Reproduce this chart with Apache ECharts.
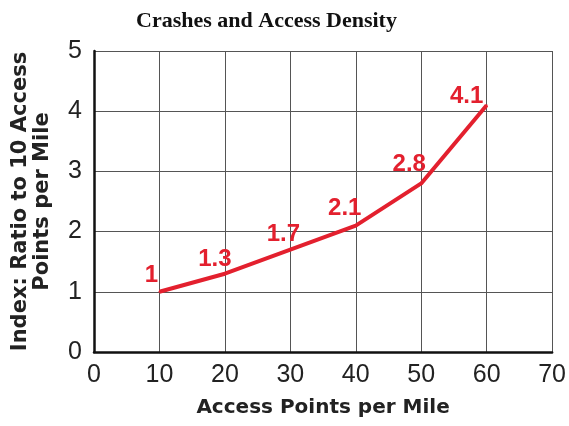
<!DOCTYPE html>
<html><head><meta charset="utf-8">
<script src="https://cdn.jsdelivr.net/npm/echarts@6/dist/echarts.min.js"></script>
<style>html,body{margin:0;padding:0;background:#fff}#c{width:569px;height:426px}</style>
</head><body><div id="c"></div>
<script>
var xValues = [10, 20, 30, 40, 50, 60];
var yValues = [1, 1.3, 1.7, 2.1, 2.8, 4.1];
var labelOffsets = [[-8, -3], [-10, -1], [-7, -2], [-11, -4], [-12, -6], [-20, 4]];

var chart = echarts.init(document.getElementById('c'));
chart.setOption({
  animation: false,
  backgroundColor: '#fff',
  title: {
    text: 'Crashes and Access Density', left: 131, top: 5,
    textStyle: { fontFamily: 'Liberation Serif', fontWeight: 'bold', fontSize: 22, color: '#111' }
  },
  grid: { left: 94, right: 15, top: 51, bottom: 74 },
  xAxis: {
    type: 'value', min: 0, max: 70, interval: 10,
    name: 'Access Points per Mile', nameLocation: 'middle', nameGap: 46,
    nameTextStyle: { fontFamily: 'DejaVu Sans', fontWeight: 'bold', fontSize: 20, color: '#222' },
    axisLine: { show: true, lineStyle: { color: '#111', width: 2.5 } },
    axisTick: { show: false },
    axisLabel: { fontFamily: 'Liberation Sans', fontSize: 25, color: '#222', margin: 11 },
    splitLine: { show: true, lineStyle: { color: '#555', width: 1 } }
  },
  yAxis: {
    type: 'value', min: 0, max: 5, interval: 1,
    name: 'Index: Ratio to 10 Access\nPoints per Mile', nameLocation: 'middle', nameGap: 40,
    nameTextStyle: { fontFamily: 'DejaVu Sans', fontWeight: 'bold', fontSize: 21, color: '#222', lineHeight: 22 },
    axisLine: { show: true, lineStyle: { color: '#111', width: 2.5 } },
    axisTick: { show: false },
    axisLabel: { fontFamily: 'Liberation Sans', fontSize: 25, color: '#222', margin: 12 },
    splitLine: { show: true, lineStyle: { color: '#555', width: 1 } }
  },
  series: [{
    type: 'line',
    data: xValues.map(function (x, i) {
      return { value: [x, yValues[i]], label: { offset: labelOffsets[i] } };
    }),
    showSymbol: true, symbol: 'circle', symbolSize: 2,
    itemStyle: { color: '#e3202e' },
    lineStyle: { color: '#e3202e', width: 4 },
    label: {
      show: true, position: 'top', distance: 0,
      fontFamily: 'Liberation Sans', fontWeight: 'bold', fontSize: 24, color: '#e3202e',
      formatter: function (p) { return String(p.value[1]); }
    }
  }]
});
</script></body></html>
